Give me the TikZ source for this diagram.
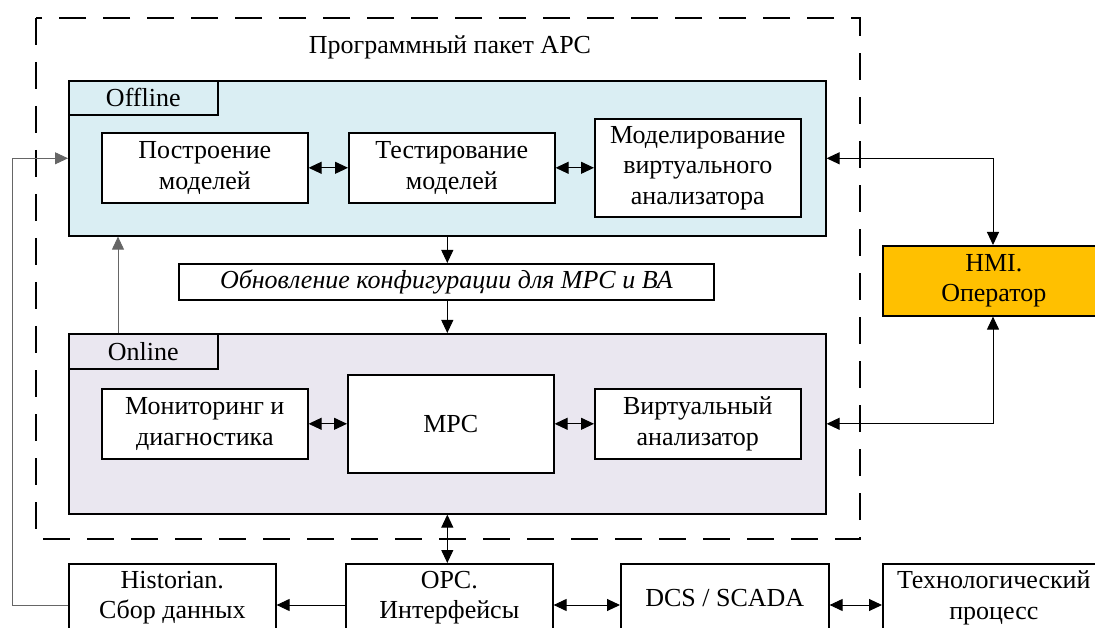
\documentclass[tikz,border=0pt]{standalone}
\usepackage{fontspec}
\setmainfont{Liberation Serif}
\usetikzlibrary{arrows.meta}
\definecolor{offfill}{HTML}{DAEEF3}
\definecolor{onfill}{HTML}{EAE7F0}
\definecolor{hmifill}{HTML}{FFC000}
\begin{document}
\begin{tikzpicture}[x=1pt,y=-1pt,
  txt/.style={font=\fontsize{26}{30.5}\selectfont},
  box/.style={draw, line width=1.6pt, fill=white, inner sep=0pt, align=center, anchor=north west, txt},
  tip/.style={-{Triangle[length=13pt,width=12pt]}},
  dtip/.style={{Triangle[length=13pt,width=12pt]}-{Triangle[length=13pt,width=12pt]}},
  link/.style={line width=1pt},
  back/.style={line width=0.9pt, draw=black!60}]
\useasboundingbox (0,0) rectangle (1095,628);
\clip (0,0) rectangle (1095,628);

% software package frame
\draw[line width=1.6pt, dash pattern=on 27pt off 17pt] (36,18) rectangle (860,539);
\node[txt] (title) at (450,47) {Программный пакет APC};

% offline group
\node[box, fill=offfill, minimum width=757pt, minimum height=155pt] (offline) at (68,80) {};
\node[box, fill=offfill, minimum width=149pt, minimum height=34pt] (offtab) at (68,80) {Offline};
\node[box, minimum width=206pt, minimum height=70pt] (build) at (101,132) {Построение\\моделей};
\node[box, minimum width=206pt, minimum height=70pt] (test) at (348,132) {Тестирование\\моделей};
\node[box, minimum width=206pt, minimum height=98pt] (sim) at (594,118) {Моделирование\\виртуального\\анализатора};

% configuration update
\node[box, minimum width=535pt, minimum height=36pt] (upd) at (178,263) {\itshape Обновление конфигурации для MPC и ВА};

% online group
\node[box, fill=onfill, minimum width=757pt, minimum height=180pt] (online) at (68,333) {};
\node[box, fill=onfill, minimum width=149pt, minimum height=35pt] (ontab) at (68,333) {Online};
\node[box, minimum width=206pt, minimum height=70pt] (mon) at (101,388) {Мониторинг и\\диагностика};
\node[box, minimum width=206pt, minimum height=98pt] (mpc) at (347,374) {MPC};
\node[box, minimum width=206pt, minimum height=70pt] (va) at (594,388) {Виртуальный\\анализатор};

% operator
\node[box, fill=hmifill, minimum width=222pt, minimum height=70pt] (hmi) at (882,245) {HMI.\\Оператор};

% lower level
\node[box, minimum width=207pt, minimum height=68pt] (hist) at (68,563) {Historian.\\Сбор данных};
\node[box, minimum width=207pt, minimum height=68pt] (opc) at (345,563) {OPC.\\Интерфейсы};
\node[box, minimum width=208pt, minimum height=68pt] (dcs) at (620,563) {DCS / SCADA};
\node[box, minimum width=222pt, minimum height=68pt] (proc) at (882,563) {Технологический\\процесс};

% connectors inside groups
\draw[link, dtip] (build) -- (test);
\draw[link, dtip] (test) -- (build.east -| sim.west);
\draw[link, dtip] (mon) -- (mpc.west |- mon.east);
\draw[link, dtip] (mpc.east |- va.west) -- (va);

% configuration flow
\draw[link, tip] (offline.south) -- (upd.north -| offline.south);
\draw[link, tip] (upd.south -| online.north) -- (online.north);
\coordinate (upx) at (118,0);
\draw[back, tip] (online.north -| upx) -- (offline.south -| upx);

% operator links
\coordinate (hx) at (993,0);
\draw[link, dtip] (offline.east) -| (hmi.north -| hx);
\draw[link, dtip] (online.east) -| (hmi.south -| hx);

% lower level links
\coordinate (row) at (0,605);
\coordinate (fb) at (12,605);
\draw[link, dtip] (online.south) -- (opc.north -| online.south);
\draw[link, tip] (opc.west |- row) -- (hist.east |- row);
\draw[link, dtip] (opc.east |- row) -- (dcs.west |- row);
\draw[link, dtip] (dcs.east |- row) -- (proc.west |- row);
\draw[back, tip] (hist.west |- row) -- (fb) |- (offline.west);
\end{tikzpicture}
\end{document}
